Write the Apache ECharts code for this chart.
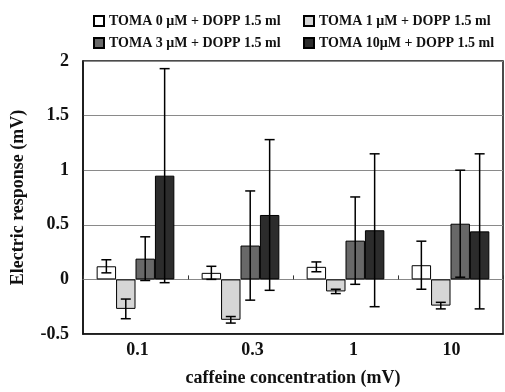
<!DOCTYPE html>
<html>
<head>
<meta charset="utf-8">
<script src="https://cdn.jsdelivr.net/npm/echarts@6/dist/echarts.min.js"></script>
<style>html,body{margin:0;padding:0;background:#fff;}#c{width:505px;height:392px;}</style>
</head>
<body>
<div id="c"></div>
<script>
const categories = ['0.1', '0.3', '1', '10'];
const seriesNames = ['TOMA 0 μM + DOPP 1.5 ml', 'TOMA 1 μM + DOPP 1.5 ml', 'TOMA 3 μM + DOPP 1.5 ml', 'TOMA 10μM + DOPP 1.5 ml'];
const toma0 = [0.12, 0.06, 0.115, 0.13];
const toma1 = [-0.27, -0.37, -0.11, -0.24];
const toma3 = [0.19, 0.31, 0.355, 0.51];
const toma10 = [0.95, 0.59, 0.45, 0.44];
const err0 = [0.06, 0.06, 0.045, 0.22];
const err1 = [0.09, 0.03, 0.02, 0.03];
const err3 = [0.20, 0.50, 0.40, 0.49];
const err10 = [0.98, 0.69, 0.70, 0.71];
const yTicks = [-0.5, 0, 0.5, 1, 1.5, 2];

const values = [toma0, toma1, toma3, toma10];
const errs = [err0, err1, err3, err10];
const colors = ['#ffffff', '#d6d6d6', '#686868', '#2c2c2c'];
const font = '"Liberation Serif", "Times New Roman", serif';
const GAP = 0.26;
const labelShift = [4, 24, 16, 2];

const chart = echarts.init(document.getElementById('c'), null, {renderer: 'canvas'});

const series = [];
values.forEach((v, i) => {
  series.push({
    name: seriesNames[i], type: 'bar', data: v, barGap: '0%', barCategoryGap: (GAP * 100) + '%',
    itemStyle: {color: colors[i], borderColor: '#000', borderWidth: 1},
    z: 2
  });
});
values.forEach((v, i) => {
  series.push({
    type: 'custom', name: 'err' + i, z: 5, silent: true,
    data: v.map((val, k) => [k, val, errs[i][k]]),
    encode: {x: 0, y: 1},
    renderItem: function (params, api) {
      const k = api.value(0), val = api.value(1), e = api.value(2);
      const band = api.size([1, 0])[0];
      const bw = band * (1 - GAP) / 4;
      const off = (i - 1.5) * bw;
      const hi = api.coord([k, val + e]);
      const lo = api.coord([k, val - e]);
      const x = hi[0] + off;
      const cap = 5;
      const st = {stroke: '#000', lineWidth: 1.5};
      return {type: 'group', children: [
        {type: 'line', shape: {x1: x, y1: hi[1], x2: x, y2: lo[1]}, style: st},
        {type: 'line', shape: {x1: x - cap, y1: hi[1], x2: x + cap, y2: hi[1]}, style: st},
        {type: 'line', shape: {x1: x - cap, y1: lo[1], x2: x + cap, y2: lo[1]}, style: st}
      ]};
    }
  });
});

const legendText = {fontFamily: font, fontWeight: 'bold', fontSize: 14, color: '#111'};
const rich = {};
labelShift.forEach((s, i) => { rich['l' + i] = {padding: [0, 0, 0, s], fontFamily: font, fontWeight: 'bold', fontSize: 18, color: '#111'}; });

chart.setOption({
  animation: false,
  backgroundColor: '#fff',
  grid: {left: 83, right: 2, top: 61, bottom: 53, show: true, borderColor: '#111', borderWidth: 1.5, backgroundColor: 'transparent'},
  legend: [
    {left: 88, top: 9, orient: 'vertical', itemGap: 8, itemWidth: 10, itemHeight: 10, icon: 'rect',
     data: [seriesNames[0], seriesNames[2]], textStyle: legendText},
    {left: 298, top: 9, orient: 'vertical', itemGap: 8, itemWidth: 10, itemHeight: 10, icon: 'rect',
     data: [seriesNames[1], seriesNames[3]], textStyle: legendText}
  ],
  xAxis: [
    {type: 'category', data: categories, position: 'bottom',
     axisLine: {onZero: false, lineStyle: {color: '#111', width: 1.5}},
     axisTick: {show: false},
     axisLabel: {margin: 7, formatter: (v, idx) => '{l' + idx + '|' + v + '}', rich: rich},
     name: 'caffeine concentration (mV)', nameLocation: 'middle', nameGap: 35,
     nameTextStyle: {fontFamily: font, fontWeight: 'bold', fontSize: 18, color: '#111'}},
    {type: 'category', data: categories, position: 'top',
     axisLine: {show: true, onZero: true, lineStyle: {color: '#888', width: 1}},
     axisTick: {show: true, inside: false, length: 4, lineStyle: {color: '#333'}},
     axisLabel: {show: false}}
  ],
  yAxis: {type: 'value', min: yTicks[0], max: yTicks[yTicks.length - 1], interval: 0.5,
    axisLine: {show: true, lineStyle: {color: '#111', width: 1.5}},
    axisTick: {show: false},
    splitLine: {show: true, lineStyle: {color: '#8a8a8a', width: 1}},
    axisLabel: {margin: 14, fontFamily: font, fontWeight: 'bold', fontSize: 18, color: '#111',
      formatter: v => String(v)},
    name: 'Electric response (mV)', nameLocation: 'middle', nameGap: 56,
    nameTextStyle: {fontFamily: font, fontWeight: 'bold', fontSize: 18, color: '#111'}},
  series: series
});
</script>
</body>
</html>
